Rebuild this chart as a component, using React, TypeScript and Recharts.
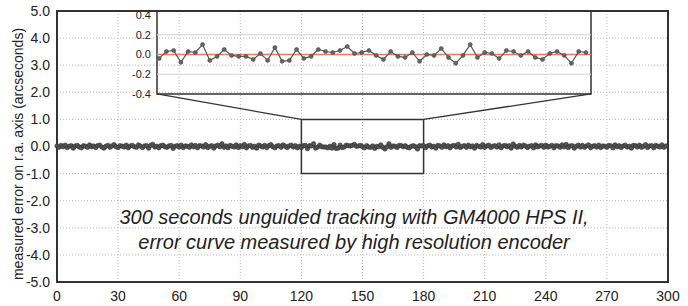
import React from "react";
import {
  CartesianGrid,
  Line,
  LineChart,
  ReferenceArea,
  ReferenceLine,
  XAxis,
  YAxis,
} from "recharts";

// measured r.a. error (arcseconds), one sample per second, t = 0..299
const errorArcsec = [
  0.02, -0.03, 0.04, -0.01, 0.05, -0.04, 0.01, 0.03, -0.06, 0.02, 0.04, -0.02, -0.05, 0.03, 0.01,
  -0.03, 0.06, -0.01, 0.02, -0.04, 0.03, 0.05, -0.02, -0.06, 0.01, 0.04, -0.03, 0.02, 0.07, -0.01,
  -0.04, 0.03, 0.01, -0.02, 0.05, -0.05, 0.02, 0.04, -0.01, -0.03, 0.06, 0.01, -0.04, 0.02, 0.03,
  -0.06, 0.04, 0.08, -0.02, 0.01, -0.05, 0.03, 0.05, -0.01, -0.03, 0.02, 0.04, -0.07, 0.01, 0.03,
  -0.02, 0.05, -0.04, 0.02, 0.01, -0.03, 0.06, -0.01, 0.04, -0.05, 0.03, 0.02, -0.02, 0.07, -0.04,
  0.01, 0.03, -0.06, 0.02, 0.05, -0.01, 0.1, -0.03, 0.02, -0.05, 0.04, 0.01, -0.02, 0.06, -0.04,
  0.03, -0.01, 0.08, -0.05, 0.02, 0.04, -0.03, 0.01, -0.06, 0.05, 0.02, -0.02, 0.04, -0.04, 0.03,
  0.07, -0.01, -0.05, 0.02, 0.03, -0.03, 0.06, 0.01, -0.04, 0.02, 0.05, -0.02, 0.03, -0.05, 0.01,
  // 120..179 (the zoomed window)
  -0.04, 0.03, 0.04, -0.08, 0.03, 0.02, 0.1, -0.06, -0.02, 0.05,
  -0.01, -0.02, -0.02, -0.05, 0.01, -0.06, 0.07, -0.07, -0.06, 0.05,
  -0.04, -0.02, 0.05, 0.03, 0.02, 0.04, 0.08, 0.01, 0.02, 0.04,
  -0.01, -0.05, 0.03, -0.02, -0.03, 0.02, -0.07, 0.0, -0.01, 0.06,
  -0.03, -0.09, -0.01, 0.1, -0.03, 0.02, 0.01, -0.04, 0.04, 0.03,
  -0.01, 0.03, -0.03, -0.05, 0.01, 0.03, -0.01, -0.09, 0.03, 0.02,
  // 180..299
  0.03, -0.04, 0.02, 0.05, -0.02, 0.01, -0.06, 0.04, 0.02, -0.03, 0.06, -0.01, 0.03, -0.05, 0.02,
  0.04, -0.02, 0.08, -0.04, 0.01, 0.03, -0.03, 0.05, -0.01, 0.02, -0.06, 0.04, 0.01, -0.02, 0.07,
  -0.03, 0.02, 0.05, -0.04, 0.01, 0.03, -0.02, 0.06, -0.05, 0.02, 0.04, -0.01, 0.03, -0.06, 0.09,
  0.01, -0.03, 0.04, -0.02, 0.05, 0.02, -0.04, 0.01, 0.03, -0.05, 0.06, -0.01, 0.02, 0.04, -0.03,
  0.05, -0.02, 0.01, 0.04, -0.05, 0.03, 0.02, -0.03, 0.06, -0.01, 0.08, -0.04, 0.02, 0.03, -0.06,
  0.01, 0.05, -0.02, 0.04, -0.03, 0.02, 0.06, -0.05, 0.01, 0.03, -0.02, 0.05, -0.04, 0.02, 0.01,
  -0.03, 0.04, 0.02, -0.05, 0.06, -0.01, 0.03, -0.04, 0.02, 0.05, -0.02, 0.01, -0.06, 0.04, 0.03,
  -0.02, 0.05, -0.03, 0.01, 0.07, -0.04, 0.02, 0.03, -0.05, 0.04, 0.01, -0.02, 0.06, -0.03, 0.02,
];
const seconds = errorArcsec.map((_, i) => i);

const xTicks = [0, 30, 60, 90, 120, 150, 180, 210, 240, 270, 300];
const yTicks = [5, 4, 3, 2, 1, 0, -1, -2, -3, -4, -5];
const insetTicks = [0.4, 0.2, 0, -0.2, -0.4];
const gridInset = [0.2, -0.2];

const zoomWindow = [120, 180]; // seconds
const zoomRange = [-1, 1]; // arcsec
// where the inset box sits, in main-chart coordinates
const insetBoxT = [49.1, 262.2];
const insetBoxV = [1.94, 5];

const caption = [
  "300 seconds unguided tracking with GM4000 HPS II,",
  "error curve measured by high resolution encoder",
];

const font = "'Liberation Sans', Arial, Helvetica, sans-serif";
const W = 688;
const H = 306;
const PL = 57;
const PR = 668;
const PT = 11;
const PB = 282;
const px = (t: number) => PL + (t / 300) * (PR - PL);
const py = (v: number) => PT + ((5 - v) / 10) * (PB - PT);

const mainData = seconds.map((t, i) => ({ t, err: errorArcsec[i] }));
const insetData = mainData.filter((d) => d.t >= zoomWindow[0] && d.t < zoomWindow[1]);

export default function App() {
  const insetLeft = px(insetBoxT[0]);
  const insetRight = px(insetBoxT[1]);
  const insetTop = py(insetBoxV[1]);
  const insetBottom = py(insetBoxV[0]);
  const insetAxisW = 30;
  const pad = 8; // room for the inset tick labels at the edges

  return (
    <div
      style={{
        position: "fixed",
        left: 0,
        top: 0,
        width: W,
        height: H,
        background: "#fff",
        fontFamily: font,
      }}
    >
      <LineChart width={W} height={H} data={mainData} margin={{ top: PT, right: W - PR, bottom: 4, left: 7 }}>
        <CartesianGrid stroke="#b8b8b8" strokeDasharray="1 2" />
        <XAxis
          dataKey="t"
          type="number"
          domain={[0, 300]}
          ticks={xTicks}
          interval={0}
          tickLine={false}
          axisLine={false}
          tickSize={6}
          tickMargin={3}
          height={20}
          tick={{ fontSize: 14, fill: "#222", fontFamily: font }}
        />
        <YAxis
          type="number"
          domain={[-5, 5]}
          ticks={yTicks}
          interval={0}
          tickFormatter={(v: number) => v.toFixed(1)}
          tickLine={false}
          axisLine={false}
          tickSize={5}
          tickMargin={2}
          width={50}
          tick={{ fontSize: 14, fill: "#222", fontFamily: font }}
        />
        <ReferenceArea x1={0} x2={300} y1={-5} y2={5} fill="none" stroke="#333" strokeWidth={2} />
        <ReferenceArea
          x1={zoomWindow[0]}
          x2={zoomWindow[1]}
          y1={zoomRange[0]}
          y2={zoomRange[1]}
          fill="none"
          stroke="#333"
          strokeWidth={1.5}
        />
        <ReferenceArea
          x1={insetBoxT[0]}
          x2={insetBoxT[1]}
          y1={insetBoxV[0]}
          y2={insetBoxV[1]}
          fill="none"
          stroke="#333"
          strokeWidth={1.5}
        />
        <ReferenceLine
          segment={[
            { x: insetBoxT[0], y: insetBoxV[0] },
            { x: zoomWindow[0], y: zoomRange[1] },
          ]}
          stroke="#333"
          strokeWidth={1.3}
        />
        <ReferenceLine
          segment={[
            { x: insetBoxT[1], y: insetBoxV[0] },
            { x: zoomWindow[1], y: zoomRange[1] },
          ]}
          stroke="#333"
          strokeWidth={1.3}
        />
        <Line
          dataKey="err"
          stroke="#333"
          strokeWidth={1.2}
          dot={{ r: 2.2, fill: "#555", stroke: "#2e2e2e", strokeWidth: 0.6 }}
          isAnimationActive={false}
        />
        <ReferenceLine y={0} stroke="#c8402a" strokeWidth={1} />
      </LineChart>

      {/* inset: zoom on 120..180 s */}
      <div
        style={{
          position: "absolute",
          left: insetLeft - insetAxisW,
          top: insetTop - pad,
          pointerEvents: "none",
        }}
      >
        <LineChart
          width={insetAxisW + (insetRight - insetLeft)}
          height={insetBottom - insetTop + 2 * pad}
          data={insetData}
          margin={{ top: 4 + pad, right: 0, bottom: pad, left: 0 }}
        >
          {gridInset.map((g) => (
            <ReferenceLine key={g} y={g} stroke="#d4d4d4" strokeWidth={1} />
          ))}
          <XAxis dataKey="t" type="number" domain={[119.7, 179.7]} hide />
          <YAxis
            type="number"
            domain={[-0.4, 0.4]}
            ticks={insetTicks}
            interval={0}
            tickFormatter={(v: number) => v.toFixed(1)}
            tickLine={false}
            axisLine={false}
            tickSize={4}
            tickMargin={2}
            width={insetAxisW}
            tick={{ fontSize: 11, fill: "#222", fontFamily: font }}
          />
          <ReferenceLine y={0} stroke="#f07a5a" strokeWidth={1.5} />
          <Line
            dataKey="err"
            stroke="#555"
            strokeWidth={1.2}
            dot={{ r: 2, fill: "#666", stroke: "#444", strokeWidth: 0.6 }}
            isAnimationActive={false}
          />
        </LineChart>
      </div>

      {/* axis title */}
      <div
        style={{
          position: "absolute",
          left: 18,
          top: 154,
          transform: "translate(-50%, -50%) rotate(-90deg)",
          whiteSpace: "nowrap",
          fontSize: 14,
          color: "#222",
        }}
      >
        measured error on r.a. axis (arcseconds)
      </div>

      {/* caption */}
      <div
        style={{
          position: "absolute",
          left: 354 - 300,
          top: 205,
          width: 600,
          textAlign: "center",
          fontSize: 20,
          lineHeight: "25px",
          fontStyle: "italic",
          color: "#222",
        }}
      >
        {caption.map((c) => (
          <div key={c}>{c}</div>
        ))}
      </div>
    </div>
  );
}
